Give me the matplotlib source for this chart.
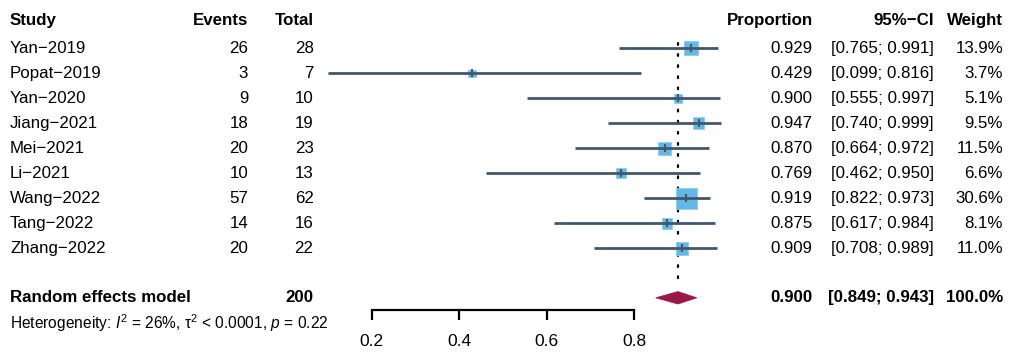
import matplotlib
matplotlib.use("Agg")
import matplotlib.pyplot as plt
from matplotlib.transforms import blended_transform_factory
from matplotlib.patches import Polygon
import numpy as np

plt.rcParams['font.family'] = ['Liberation Sans', 'DejaVu Sans']
plt.rcParams['mathtext.fontset'] = 'custom'
plt.rcParams['mathtext.rm'] = 'Liberation Sans'
plt.rcParams['mathtext.it'] = 'Liberation Sans:italic'
plt.rcParams['mathtext.bf'] = 'Liberation Sans:bold'

studies = ["Yan\u22122019", "Popat\u22122019", "Yan\u22122020", "Jiang\u22122021", "Mei\u22122021",
           "Li\u22122021", "Wang\u22122022", "Tang\u22122022", "Zhang\u22122022"]
events = [26, 3, 9, 18, 20, 10, 57, 14, 20]
totals = [28, 7, 10, 19, 23, 13, 62, 16, 22]
props = [0.929, 0.429, 0.900, 0.947, 0.870, 0.769, 0.919, 0.875, 0.909]
ci_low = [0.765, 0.099, 0.555, 0.740, 0.664, 0.462, 0.822, 0.617, 0.708]
ci_high = [0.991, 0.816, 0.997, 0.999, 0.972, 0.950, 0.973, 0.984, 0.989]
weights = [13.9, 3.7, 5.1, 9.5, 11.5, 6.6, 30.6, 8.1, 11.0]
pooled = 0.900
pooled_low = 0.849
pooled_high = 0.943
pooled_total = 200
xticks = [0.2, 0.4, 0.6, 0.8]

W, H = 1013, 353
fig = plt.figure(figsize=(W / 100, H / 100), dpi=100)
# axes covering the full figure; x mapping: px = 284.2 + 437.5*x
ax = fig.add_axes([0, 0, 1, 1])
x0, sc = 284.2, 437.5
ax.set_xlim(-x0 / sc, (W - x0) / sc)
y0, rs = 48.3, 25.0
ax.set_ylim((H - y0) / rs, -y0 / rs)
ax.patch.set_alpha(0)
for s in ['top', 'left', 'right']:
    ax.spines[s].set_visible(False)
ax.set_yticks([])

rows = np.arange(len(studies))
pool_row = 9.98
het_row = 11.0
head_row = -1.1

# dotted reference line
ax.plot([pooled, pooled], [-0.2, 9.55], color='black', lw=1.6,
        linestyle=(0, (0.8, 4.2)), dash_capstyle='round', zorder=1)

# squares sized by weight
side_px = 21.0 * np.sqrt(np.array(weights) / 30.6)
ax.scatter(props, rows, s=(side_px * 0.72) ** 2, marker='s', color='#62B9E6',
           edgecolors='#8CCDEE', linewidths=0.6, zorder=2)
# CI lines
ax.hlines(rows, ci_low, ci_high, color='#44576A', lw=2.0, zorder=3)
ax.scatter(props, rows, s=(8 * 0.72) ** 2, marker='|', color='#44576A',
           linewidths=1.5, zorder=4)

# diamond
dh = 0.25
ax.add_patch(Polygon([[pooled_low, pool_row], [pooled, pool_row - dh],
                      [pooled_high, pool_row], [pooled, pool_row + dh]],
                     closed=True, facecolor='#9B1746', edgecolor='#9B1746', lw=0.5, zorder=3))

# x axis
ax.spines['bottom'].set_position(('data', 10.47))
ax.spines['bottom'].set_bounds(0.2, 0.8)
ax.spines['bottom'].set_linewidth(1.6)
ax.set_xticks(xticks)
ax.set_xticklabels([f"{t:.1f}" for t in xticks])
ax.tick_params(axis='x', direction='out', length=7.5, width=1.6, pad=10, labelsize=12.5)

# text columns
tr = blended_transform_factory(fig.transFigure, ax.transData)
fs = 12.2

def put(px, row, s, ha='left', bold=False, size=fs):
    ax.text(px / W, row, s, transform=tr, ha=ha, va='center', fontsize=size,
            fontweight='bold' if bold else 'normal')

put(10, head_row, "Study", bold=True)
put(248, head_row, "Events", ha='right', bold=True)
put(313.5, head_row, "Total", ha='right', bold=True)
put(812.5, head_row, "Proportion", ha='right', bold=True)
put(934, head_row, "95%\u2212CI", ha='right', bold=True)
put(1003, head_row, "Weight", ha='right', bold=True)

for i in range(len(studies)):
    put(10, i, studies[i])
    put(248, i, str(events[i]), ha='right')
    put(313.5, i, str(totals[i]), ha='right')
    put(812.5, i, f"{props[i]:.3f}", ha='right')
    put(934, i, f"[{ci_low[i]:.3f}; {ci_high[i]:.3f}]", ha='right')
    put(1003, i, f"{weights[i]:.1f}%", ha='right')

put(10, pool_row, "Random effects model", bold=True)
put(313.5, pool_row, str(pooled_total), ha='right', bold=True)
put(812.5, pool_row, f"{pooled:.3f}", ha='right', bold=True)
put(934, pool_row, f"[{pooled_low:.3f}; {pooled_high:.3f}]", ha='right', bold=True)
put(1003, pool_row, f"{sum(weights):.1f}%", ha='right', bold=True)

put(10, het_row, "Heterogeneity: $I^2$ = 26%, \u03c4$^2$ < 0.0001, $p$ = 0.22", size=11.2)

fig.savefig("out.png", dpi=100)
